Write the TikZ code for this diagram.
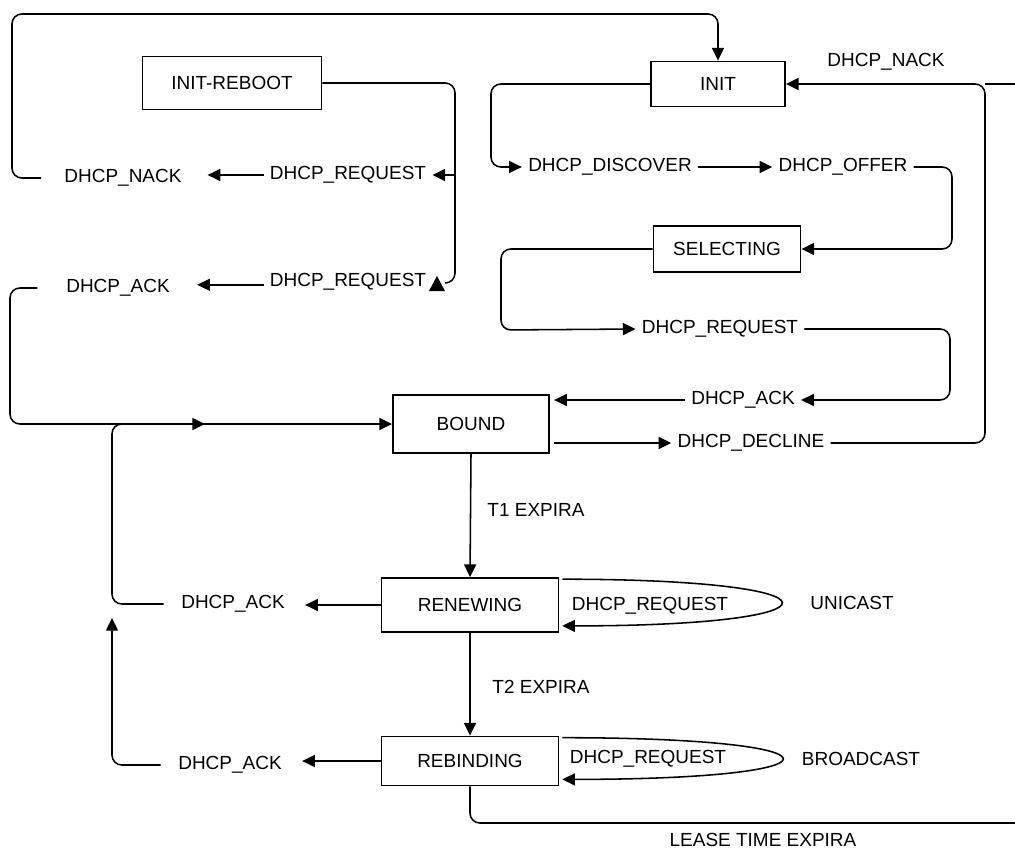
\documentclass[tikz,border=0pt]{standalone}
\usepackage{fontspec}
\setmainfont{Liberation Sans}
\usepackage{tikz}
\usetikzlibrary{arrows.meta,positioning}
\tikzstyle{state} = [rectangle, draw, line width=1.3pt, text centered, inner sep=0pt]
\tikzstyle{msg} = [inner xsep=4pt, inner ysep=2pt, text centered]
\tikzstyle{link} = [line width=1.1pt, rounded corners=7pt]

\begin{document}
\begin{tikzpicture}[x=0.025cm, y=-0.025cm, >={Triangle[length=9pt,width=8.5pt]}, font=\fontsize{13.5}{16}\selectfont, line width=1.1pt]
	\useasboundingbox (0,0) rectangle (1015,850);
	% states
	\node[state, minimum width=4.475cm, minimum height=1.325cm] (reboot) at (232,83) {INIT-REBOOT};
	\node[state, minimum width=3.35cm, minimum height=1.125cm] (init) at (718,84) {INIT};
	\node[state, minimum width=3.675cm, minimum height=1.15cm] (sel) at (727,249) {SELECTING};
	\node[state, minimum width=3.9cm, minimum height=1.45cm] (bound) at (471,424) {BOUND};
	\node[state, minimum width=4.425cm, minimum height=1.35cm] (renew) at (470,605) {RENEWING};
	\node[state, minimum width=4.425cm, minimum height=1.225cm] (rebind) at (470,761) {REBINDING};
	% messages
	\node[msg] (reqA) at (348,175) {DHCP\_REQUEST};
	\node[msg] (nackA) at (123,178) {DHCP\_NACK};
	\node[msg] (reqB) at (348,282) {DHCP\_REQUEST};
	\node[msg] (ackA) at (118,288) {DHCP\_ACK};
	\node[msg] (nackB) at (886,62) {DHCP\_NACK};
	\node[msg] (disc) at (610,167) {DHCP\_DISCOVER};
	\node[msg] (offer) at (843,167) {DHCP\_OFFER};
	\node[msg] (reqC) at (720,329) {DHCP\_REQUEST};
	\node[msg] (ackB) at (743,400) {DHCP\_ACK};
	\node[msg] (decl) at (751,443) {DHCP\_DECLINE};
	\node[msg] (t1) at (536,510) {T1 EXPIRA};
	\node[msg] (ackC) at (233,604) {DHCP\_ACK};
	\node[msg] (reqD) at (650,606) {DHCP\_REQUEST};
	\node[msg] (uni) at (852,603) {UNICAST};
	\node[msg] (t2) at (541,687) {T2 EXPIRA};
	\node[msg] (ackD) at (230,765) {DHCP\_ACK};
	\node[msg] (reqE) at (648,759) {DHCP\_REQUEST};
	\node[msg] (bcast) at (861,759) {BROADCAST};
	\node[msg] (lease) at (763,840) {LEASE TIME EXPIRA};
	\coordinate (split) at (455,175);
	\coordinate (join) at (205,424);
	\coordinate (corner) at (985,84);
	\coordinate (edgeT) at (1015,84);
	\coordinate (edgeB) at (1015,823);

	% init-reboot
	\draw[link] (reboot.east) -| (split) -- (455,283) -- (445,283);
	\fill (429,291) -- (445,291) -- (437,276) -- cycle;
	\draw[link,->] (split) -- (reqA.east);
	\draw[->] (reqA.west) -- ([xshift=14pt]nackA.east |- reqA.west);
	\draw[->] ([yshift=-2pt]reqB.west) -- ([xshift=15pt,yshift=-2pt]ackA.east |- reqB.west);
	\draw[link,->] ([xshift=-12pt]nackA.west) -| (12,14) -| (init.north);
	\draw[link,->] ([xshift=-16pt]ackA.west) -| (10,424) -- (join);
	\draw[->] (join) -- (bound.west);

	% init / selecting
	\draw[link,->] (init.west) -| (491,167) -- (disc.west);
	\draw[->] (disc.east) -- (offer.west |- disc.east);
	\draw[link,->] (offer.east) -| (952,249) -- (sel.east);
	\draw[link,->] (sel.west) -| (501,330) -- (reqC.west);
	\draw[link,->] (reqC.east) -| (950,400) -- (ackB.east);
	\draw[->] (ackB.west) -- ([xshift=3pt]bound.east |- ackB.west);
	\draw[->] ([xshift=3pt]bound.east |- decl.west) -- (decl.west);
	\draw[link,->] (decl.east) -| (corner) -- (init.east);
	\draw (edgeT) -- (corner);

	% bound / renewing / rebinding
	\draw[->] (bound.south) -- (renew.north);
	\draw[->] (renew.south) -- (rebind.north);
	\draw[->] (renew.west) -- ([xshift=10pt]ackC.east |- renew.west);
	\draw[->] (rebind.west) -- ([xshift=10pt]ackD.east |- rebind.west);
	\draw[link] ([xshift=-8pt]ackC.west) -| (112,424) -- (join);
	\draw[link,->] ([xshift=-8pt]ackD.west) -| (112,618);
	\draw[->] ([xshift=2pt,yshift=-1.5pt]renew.north east) to[out=0,in=0,looseness=16] ([xshift=2pt,yshift=5pt]renew.south east);
	\draw[->] ([xshift=2pt,yshift=-1.5pt]rebind.north east) to[out=0,in=0,looseness=18] ([xshift=2pt,yshift=5pt]rebind.south east);
	\draw[link] (rebind.south) |- (edgeB);
\end{tikzpicture}
\end{document}
